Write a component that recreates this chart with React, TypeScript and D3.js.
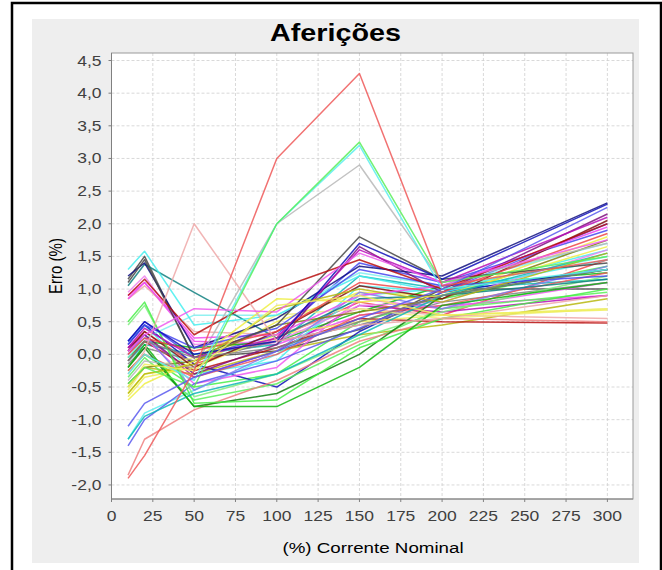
import React from 'react';
import * as d3 from 'd3';

// x positions of the measurements (% of nominal current)
const X_VALUES = [10, 20, 50, 100, 150, 200, 300];

const X_TICKS = [0, 25, 50, 75, 100, 125, 150, 175, 200, 225, 250, 275, 300];
const Y_TICKS = [-2, -1.5, -1, -0.5, 0, 0.5, 1, 1.5, 2, 2.5, 3, 3.5, 4, 4.5];

// error (%) per series, one value per X_VALUES entry
const SERIES = [
  [-1.9, -1.55, -0.25, 3.0, 4.3, 1.05, 1.45],
  [-1.1, -0.75, -0.35, 0.05, 0.55, 1.0, 2.25],
  [-0.45, -0.2, -0.5, 2.0, 3.25, 1.1, 1.5],
  [-0.5, -0.15, -0.25, 0.75, 0.9, 0.6, 0.68],
  [0.05, 0.3, 0.7, 0.65, 1.55, 1.1, 1.75],
  [-0.3, 0.0, -0.4, 2.0, 3.2, 1.0, 1.3],
  [-0.3, 0.05, 2.0, 0.2, 0.45, 0.55, 0.9],
  [-0.1, 0.2, -0.05, 0.1, 0.5, 0.9, 1.3],
  [0.9, 1.15, 0.3, 1.0, 1.45, 1.0, 2.0],
  [0.2, 0.5, 0.0, 0.2, 1.7, 1.15, 2.3],
  [-0.2, 0.15, -0.8, -0.8, -0.2, 0.75, 1.1],
  [-0.6, -0.3, -0.15, 0.7, 1.0, 0.8, 1.55],
  [0.1, 0.4, -0.05, 0.25, 1.6, 1.1, 2.1],
  [-1.3, -0.95, -0.6, -0.3, 0.3, 0.9, 1.55],
  [1.1, 1.45, -0.05, 0.45, 1.8, 1.15, 1.4],
  [0.0, 0.25, 0.05, 0.35, 1.1, 0.95, 1.85],
  [0.15, 0.45, 0.1, 0.4, 1.3, 1.05, 1.2],
  [0.5, 0.8, -0.75, -0.7, 0.1, 0.55, 1.0],
  [-0.7, -0.45, -0.1, 0.85, 0.8, 0.9, 1.65],
  [0.85, 1.1, 0.25, 0.3, 0.9, 1.05, 1.95],
  [1.3, 1.58, 0.45, 0.6, 1.2, 0.95, 1.45],
  [-0.4, -0.1, -0.2, 2.0, 2.9, 1.1, 1.7],
  [0.05, 0.35, -0.2, 0.35, 1.05, 0.85, 2.05],
  [1.2, 1.4, 0.1, 0.55, 1.35, 1.2, 2.32],
  [-0.2, 0.1, -0.8, -0.6, 0.0, 0.9, 1.3],
  [-0.45, -0.2, -0.1, 0.45, 0.65, 0.85, 1.75],
  [0.1, 0.3, -0.3, 0.15, 1.65, 0.95, 2.15],
  [1.05, 1.38, 0.95, 0.25, 0.85, 0.9, 1.15],
  [-1.85, -1.3, -0.85, -0.4, 0.2, 0.55, 0.5],
  [0.0, 0.3, -0.55, 0.05, 0.95, 0.7, 1.35],
  [0.45, 0.75, -0.65, -0.3, 0.25, 0.65, 1.2],
  [-0.55, -0.2, -0.05, 0.6, 0.7, 0.55, 0.7],
  [0.95, 1.2, 0.15, 0.2, 0.75, 0.8, 1.6],
  [-0.05, 0.25, 0.6, 0.6, 1.25, 1.05, 1.7],
  [-0.25, 0.0, -0.35, 0.0, 0.6, 0.75, 1.25],
  [-1.4, -1.0, -0.45, -0.1, 0.4, 0.95, 2.0],
  [-0.35, -0.05, -0.7, -0.45, 0.15, 0.7, 0.95],
  [-0.65, -0.35, -0.2, 0.3, 0.5, 0.6, 0.7],
  [0.05, 0.25, -0.45, -0.2, 0.85, 0.7, 1.1],
  [-1.3, -0.9, -0.55, 0.0, 0.9, 1.0, 1.5],
  [0.85, 1.05, 0.35, 0.3, 0.7, 0.6, 0.55],
  [-0.15, 0.1, -0.1, 0.2, 0.45, 0.8, 1.1],
  [-0.1, 0.2, -0.25, 0.1, 0.55, 0.5, 0.48],
  [0.15, 0.45, -0.15, -0.5, 0.35, 0.95, 1.3],
  [-0.05, 0.2, 0.1, 0.2, 0.65, 1.05, 1.25],
  [-0.5, -0.2, -0.3, 0.05, 0.3, 0.45, 0.85],
  [0.05, 0.3, -0.35, 0.05, 0.75, 0.65, 0.9],
  [-0.1, 0.15, 0.0, 0.15, 1.2, 1.0, 1.15],
  [1.15, 1.5, -0.05, 0.05, 0.38, 1.0, 1.0],
  [0.1, 0.35, -0.15, 0.25, 0.8, 0.6, 1.45],
  [0.2, 0.5, -0.05, 0.3, 1.4, 1.1, 1.9],
  [-0.25, 0.0, -0.5, -0.3, 0.5, 0.85, 1.35],
  [-0.6, -0.3, -0.2, 0.5, 0.95, 0.9, 1.8],
  [0.9, 1.1, 0.2, 0.15, 0.6, 0.75, 0.9],
  [0.2, 0.45, -0.3, -0.1, 1.05, 0.95, 1.6],
];

// default series paint cycle
const SERIES_COLORS = [
  '#ff5555', '#5555ff', '#55ff55', '#ffff55', '#ff55ff', '#55ffff', '#ffafaf', '#808080',
  '#c00000', '#0000c0', '#00c000', '#c0c000', '#c000c0', '#00c0c0', '#404040',
  '#ff4040', '#4040ff', '#40ff40', '#ffff40', '#ff40ff', '#40ffff', '#c0c0c0',
  '#800000', '#000080', '#008000', '#808000', '#800080', '#008080',
  '#ff8080', '#8080ff', '#80ff80', '#ffff80', '#ff80ff', '#80ffff',
];

const W = 662;
const H = 570;
const PLOT = { left: 111.5, right: 633, top: 53, bottom: 499 };
const STRETCH = 1.25; // text in the reference is widened horizontally
const FONT = '"Liberation Sans", Arial, sans-serif';

const fmt = (v: number) => d3.format('.1f')(v).replace('.', ',').replace('−', '-');
// the reference colours look a little washed out
const mute = (c: string) => d3.interpolateRgb(c, '#777777')(0.12);

export default function App() {
  const x = d3.scaleLinear().domain([0, 315.5]).range([PLOT.left, PLOT.right]);
  const y = d3.scaleLinear().domain([-2.215, 4.615]).range([PLOT.bottom, PLOT.top]);

  const line = d3.line<number>()
    .x((_, i) => x(X_VALUES[i]))
    .y(d => y(d));

  return (
    <svg width={W} height={H} style={{ position: 'absolute', left: 0, top: 0 }} fontFamily={FONT}>
      <defs>
        <filter id="soft" x="-5%" y="-5%" width="110%" height="110%">
          <feGaussianBlur stdDeviation="0.45" />
        </filter>
      </defs>
      <rect x={0} y={0} width={W} height={H} fill="#fff" />
      <rect x={12} y={3} width={649} height={600} fill="none" stroke="#000" strokeWidth={2.5} />
      <rect x={32} y={19} width={607} height={544} fill="#eeeeee" />

      {/* title */}
      <text transform={`translate(335.5,41) scale(${STRETCH},1)`} textAnchor="middle"
        fontSize={23} fontWeight="bold" fill="#000">Aferições</text>

      {/* plot background */}
      <rect x={PLOT.left} y={PLOT.top} width={PLOT.right - PLOT.left} height={PLOT.bottom - PLOT.top} fill="#fff" />

      {/* gridlines */}
      <g stroke="#cfcfcf" strokeWidth={0.8} strokeDasharray="3,2">
        {X_TICKS.map(t => (
          <line key={'gx' + t} x1={x(t)} x2={x(t)} y1={PLOT.top} y2={PLOT.bottom} />
        ))}
        {Y_TICKS.map(t => (
          <line key={'gy' + t} x1={PLOT.left} x2={PLOT.right} y1={y(t)} y2={y(t)} />
        ))}
      </g>

      {/* series */}
      <g fill="none" strokeWidth={1.5} strokeOpacity={0.85} strokeLinejoin="round" filter="url(#soft)">
        {SERIES.map((s, i) => (
          <path key={i} d={line(s) || ''} stroke={mute(SERIES_COLORS[i % SERIES_COLORS.length])} />
        )).reverse()}
      </g>

      {/* plot outline and axes */}
      <rect x={PLOT.left} y={PLOT.top} width={PLOT.right - PLOT.left} height={PLOT.bottom - PLOT.top}
        fill="none" stroke="#9a9a9a" strokeWidth={1} />
      <line x1={PLOT.left} x2={PLOT.left} y1={PLOT.top} y2={PLOT.bottom} stroke="#808080" />
      <line x1={PLOT.left} x2={PLOT.right} y1={PLOT.bottom} y2={PLOT.bottom} stroke="#808080" />

      {/* y axis */}
      {Y_TICKS.map(t => (
        <g key={'yt' + t}>
          <line x1={PLOT.left - 3} x2={PLOT.left} y1={y(t)} y2={y(t)} stroke="#808080" />
          <text transform={`translate(${PLOT.left - 10},${y(t) + 5}) scale(${STRETCH},1)`}
            textAnchor="end" fontSize={14} fill="#404040">{fmt(t)}</text>
        </g>
      ))}

      {/* x axis */}
      {X_TICKS.map(t => (
        <g key={'xt' + t}>
          <line x1={x(t)} x2={x(t)} y1={PLOT.bottom} y2={PLOT.bottom + 3} stroke="#808080" />
          <text transform={`translate(${x(t)},${PLOT.bottom + 22}) scale(${STRETCH},1)`}
            textAnchor="middle" fontSize={14} fill="#404040">{t}</text>
        </g>
      ))}

      <text transform={`translate(373,553) scale(${STRETCH},1)`} textAnchor="middle"
        fontSize={15} fill="#000">(%) Corrente Nominal</text>
      <text transform={`translate(62,266) scale(${STRETCH},1) rotate(-90)`} textAnchor="middle"
        fontSize={15} fill="#000">Erro (%)</text>
    </svg>
  );
}
